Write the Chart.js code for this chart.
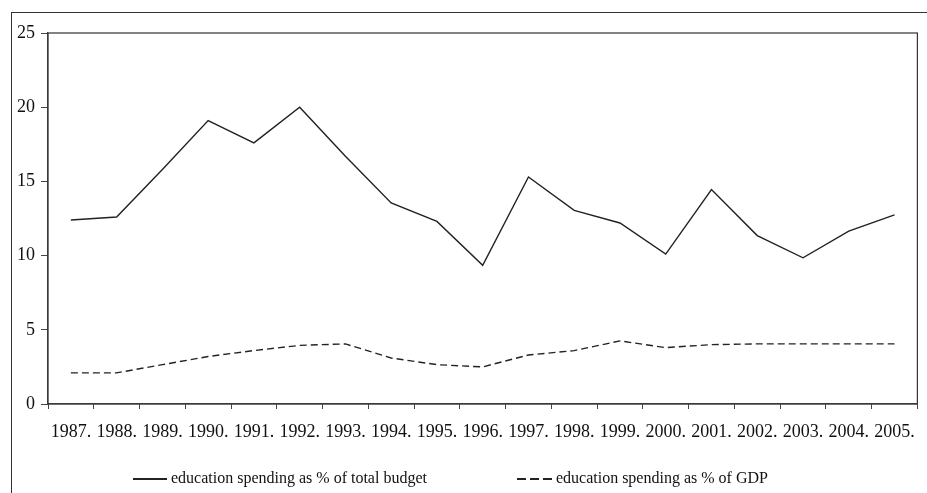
<!DOCTYPE html>
<html>
<head>
<meta charset="utf-8">
<script src="https://cdn.jsdelivr.net/npm/chart.js@4"></script>
<style>
  html, body { margin: 0; padding: 0; background: #fff; overflow: hidden; }
  #wrap { position: relative; width: 927px; height: 493px; }
  #frame { position: absolute; left: 11px; top: 12px; width: 960px; height: 520px; border: 1px solid #333; }
  #myChart { position: absolute; left: 0; top: 0; }
  #legend { position: absolute; left: 133px; top: 469px; display: flex; gap: 90px;
            font: 16px "Liberation Serif", "Times New Roman", serif; color: #111; white-space: nowrap; }
  .item { display: flex; align-items: center; }
  .swatch { width: 34px; height: 1.4px; background: #222; margin-right: 4px; margin-top: 2px; }
  .swatch.dash { width: 36px; margin-right: 3px;
                 background: repeating-linear-gradient(to right, #222 0 9px, transparent 9px 13px); }
</style>
</head>
<body>
<div id="wrap">
  <div id="frame"></div>
  <canvas id="myChart" width="927" height="493"></canvas>
  <div id="legend"></div>
</div>
<script>
// years on the x axis
const years = ['1987.', '1988.', '1989.', '1990.', '1991.', '1992.', '1993.', '1994.', '1995.', '1996.',
  '1997.', '1998.', '1999.', '2000.', '2001.', '2002.', '2003.', '2004.', '2005.'];
// education spending as % of total budget
const budgetShare = [12.4, 12.6, 15.8, 19.1, 17.6, 20.0, 16.7, 13.55, 12.3, 9.35,
  15.3, 13.05, 12.2, 10.1, 14.45, 11.35, 9.85, 11.65, 12.75];
// education spending as % of GDP
const gdpShare = [2.1, 2.1, 2.65, 3.2, 3.6, 3.95, 4.05, 3.1, 2.65, 2.5,
  3.3, 3.6, 4.25, 3.8, 4.0, 4.05, 4.05, 4.05, 4.05];
const yTicks = [0, 5, 10, 15, 20, 25];

const serif = '"Liberation Serif", "Times New Roman", serif';
const ctx = document.getElementById('myChart');

// box around the plot area (top + right edges)
const plotBox = {
  id: 'plotBox',
  afterDraw(chart) {
    const a = chart.chartArea, c = chart.ctx;
    c.save();
    c.strokeStyle = '#333';
    c.lineWidth = 1.2;
    c.strokeRect(a.left, a.top, a.right - a.left, a.bottom - a.top);
    c.restore();
  }
};

const chart = new Chart(ctx, {
  type: 'line',
  data: {
    labels: years,
    datasets: [
      {label: 'education spending as % of total budget',
       data: budgetShare, borderColor: '#222', borderWidth: 1.4,
       pointRadius: 0, tension: 0, fill: false},
      {label: 'education spending as % of GDP',
       data: gdpShare, borderColor: '#222', borderWidth: 1.4, borderDash: [7, 4],
       pointRadius: 0, tension: 0, fill: false},
    ]
  },
  options: {
    responsive: false,
    animation: false,
    layout: { padding: { top: 33, right: 9, left: 0, bottom: 0 } },
    plugins: { legend: { display: false }, tooltip: { enabled: false } },
    scales: {
      x: {
        offset: true,
        grid: { offset: true, drawOnChartArea: false, tickLength: 5, color: '#444', lineWidth: 1 },
        border: { color: '#444', width: 1.2 },
        ticks: { color: '#111', font: { family: serif, size: 18 }, padding: 12,
                 maxRotation: 0, autoSkip: false },
        afterFit: s => { s.height = 89; }
      },
      y: {
        min: 0, max: 25,
        afterBuildTicks: s => { s.ticks = yTicks.map(v => ({value: v})); },
        grid: { drawOnChartArea: false, tickLength: 7, color: '#444', lineWidth: 1 },
        border: { color: '#444', width: 1.2 },
        ticks: { color: '#111', font: { family: serif, size: 18 }, padding: 6 },
        afterFit: s => { s.width = 48; }
      }
    }
  },
  plugins: [plotBox]
});

// legend below the chart
const legend = document.getElementById('legend');
chart.data.datasets.forEach(ds => {
  const item = document.createElement('div');
  item.className = 'item';
  const sw = document.createElement('span');
  sw.className = 'swatch' + (ds.borderDash ? ' dash' : '');
  const txt = document.createElement('span');
  txt.textContent = ds.label;
  item.appendChild(sw);
  item.appendChild(txt);
  legend.appendChild(item);
});
</script>
</body>
</html>
